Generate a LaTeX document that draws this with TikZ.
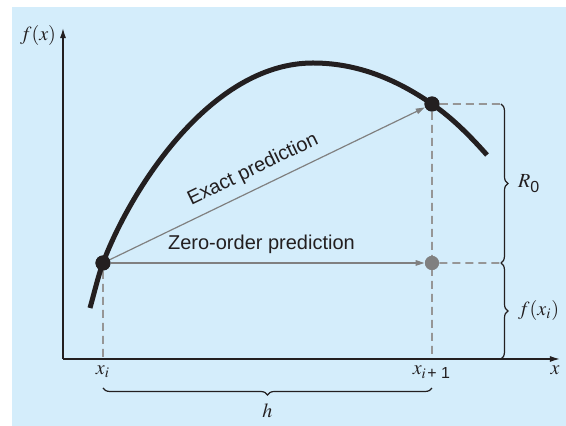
\documentclass[tikz,border=0pt]{standalone}
\usepackage{mathptmx}
\usepackage{fontspec}
\setsansfont{Liberation Sans}
\usetikzlibrary{arrows.meta,decorations.pathreplacing}
\definecolor{panel}{RGB}{212,237,251}
\definecolor{ink}{RGB}{35,31,32}
\definecolor{dashgrey}{RGB}{150,150,150}
\definecolor{pointgrey}{RGB}{128,128,128}
\newcommand{\sfsub}[1]{\mbox{\sffamily\footnotesize #1}}
\tikzset{
  bigdot/.style={circle,fill=ink,inner sep=0pt,minimum size=7.5pt},
  greydot/.style={circle,fill=pointgrey,inner sep=0pt,minimum size=7pt},
  guideline/.style={dashgrey,line width=.8pt,dash pattern=on 4pt off 2.5pt},
  predict/.style={pointgrey,line width=.6pt,-{Triangle[length=4.5pt,width=2.8pt]}},
  bracket/.style={ink,line width=.6pt,decorate,decoration={brace,amplitude=3.5pt}},
  lbl/.style={text=ink,font=\sffamily}
}
\begin{document}
\begin{tikzpicture}[scale=.8786]
  \useasboundingbox (-1.26,-1.34) rectangle (10.06,7.18);
  \fill[panel] (-1.02,-1.34) rectangle (10.06,7.04);
  \coordinate (O) at (0,0);
  \coordinate (ytip) at (0,6.62);
  \coordinate (xtip) at (9.94,0);
  \node[bigdot] (xi) at (.8,1.92) {};
  \node[bigdot] (xn) at (7.38,5.1) {};
  \node[greydot] (zo) at (7.38,1.92) {};
  \coordinate (Rtop) at (8.76,5.1);
  \coordinate (Rmid) at (8.76,1.92);
  \coordinate (Rbot) at (8.76,0);
  \coordinate (hR) at (7.38,-.58);
  \coordinate (hL) at (.8,-.58);
  % guide lines
  \draw[guideline] (xi) -- (xi |- O);
  \draw[guideline] (xn) -- (xn |- O);
  \draw[guideline] (xn) -- (Rtop);
  \draw[guideline] (zo) -- (Rmid);
  % axes
  \draw[ink,line width=.7pt,-{Latex[length=5pt,width=3pt]}] (O) -- (ytip);
  \draw[ink,line width=.7pt,-{Latex[length=5pt,width=3pt]}] (O) -- (xtip);
  \node[text=ink] (fx) at (-.5,6.46) {$f(x)$};
  \node[text=ink,below] (xilab) at (xi |- O) {$x_i$};
  \node[text=ink,below] (xnlab) at (xn |- O) {$x_{i\,\sfsub{+ 1}}$};
  \node[text=ink,below,xshift=-2.5pt] (xlab) at (xtip) {$x$};
  % the function
  \draw[ink,line width=2.5pt] (.54,1.02) .. controls (.62,1.3) and (.7,1.65) .. (xi.center)
    .. controls (1.3,3.27) and (2.9,5.92) .. (5.0,5.92)
    .. controls (6.0,5.92) and (6.8,5.5) .. (xn.center)
    .. controls (7.8,4.81) and (8.15,4.45) .. (8.48,4.08);
  % predictions
  \draw[predict] (xi) -- (xn) node[lbl,pos=.48,sloped,above,yshift=1pt] {Exact prediction};
  \draw[predict] (xi) -- (zo) node[lbl,pos=.48,above,yshift=1pt] {Zero-order prediction};
  \node[bigdot] at (xi) {};
  \node[bigdot] at (xn) {};
  \node[greydot] at (zo) {};
  % braces
  \draw[bracket] (Rtop) -- (Rmid) node[text=ink,midway,right=5pt] {$R_{\sfsub{0}}$};
  \draw[bracket] (Rmid) -- (Rbot) node[text=ink,midway,right=5pt] {$f(x_i)$};
  \draw[bracket] (hR) -- (hL) node[text=ink,midway,below=4pt] {$h$};
\end{tikzpicture}
\end{document}
